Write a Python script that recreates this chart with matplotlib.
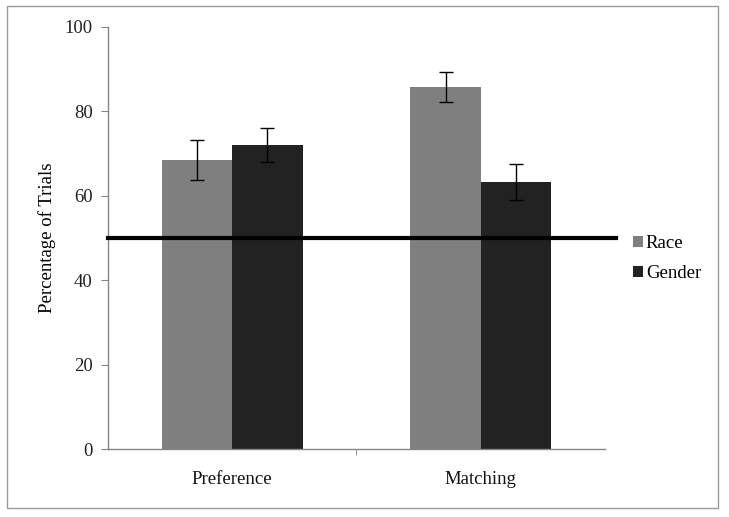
import matplotlib
matplotlib.use("Agg")
import matplotlib.pyplot as plt
import numpy as np
from matplotlib.patches import Rectangle

categories = ["Preference", "Matching"]
series_names = ["Race", "Gender"]
race_values = [68.5, 85.8]
gender_values = [72.0, 63.3]
race_err = [4.8, 3.5]
gender_err = [4.0, 4.3]
chance_level = 50
y_ticks = [0, 20, 40, 60, 80, 100]

plt.rcParams['font.family'] = ['Liberation Serif', 'DejaVu Serif']
FS = 13.5

fig = plt.figure(figsize=(7.29, 5.17), dpi=100)
ax = fig.add_axes([0.148, 0.1315, 0.682, 0.8165])

x = np.arange(len(categories))
w = 0.283
race_color = "#7f7f7f"
gender_color = "#222222"
b1 = ax.bar(x - w/2, race_values, w, color=race_color, label=series_names[0], zorder=2)
b2 = ax.bar(x + w/2, gender_values, w, color=gender_color, label=series_names[1], zorder=2)
ax.errorbar(x - w/2, race_values, yerr=race_err, fmt='none', ecolor='black',
            elinewidth=1, capsize=5, capthick=1, zorder=3)
ax.errorbar(x + w/2, gender_values, yerr=gender_err, fmt='none', ecolor='black',
            elinewidth=1, capsize=5, capthick=1, zorder=3)

ax.axhline(chance_level, xmin=0, xmax=1.022, color='black', lw=3, clip_on=False, zorder=4)

ax.set_xlim(-0.5, len(categories) - 0.5)
ax.set_ylim(0, 100)
ax.set_yticks(y_ticks)
ax.set_yticklabels([str(t) for t in y_ticks], fontsize=FS, color='#222222')
ax.set_xticks(x)
ax.set_xticklabels(categories, fontsize=FS, color='#111111')
ax.tick_params(axis='x', length=0, pad=16)
ax.set_xticks([0.5], minor=True)
ax.tick_params(axis='x', which='minor', length=4, color='#868686', direction='out')
ax.tick_params(axis='y', length=5, color='#868686', direction='out', pad=6)

for s in ['top', 'right']:
    ax.spines[s].set_visible(False)
for s in ['left', 'bottom']:
    ax.spines[s].set_color('#868686')
    ax.spines[s].set_linewidth(1)

ax.set_ylabel("Percentage of Trials", fontsize=FS, labelpad=6)

leg = fig.legend(handles=[b1, b2], labels=series_names, loc='upper left',
                 bbox_to_anchor=(0.855, 0.564), frameon=False, fontsize=FS,
                 handlelength=0.55, handleheight=0.55, handletextpad=0.15,
                 labelspacing=0.7, borderpad=0)

fig.patches.append(Rectangle((0.009, 0.018), 0.976, 0.97, transform=fig.transFigure,
                             fill=False, edgecolor='#9a9a9a', lw=1))

fig.savefig("out.png", dpi=100)
